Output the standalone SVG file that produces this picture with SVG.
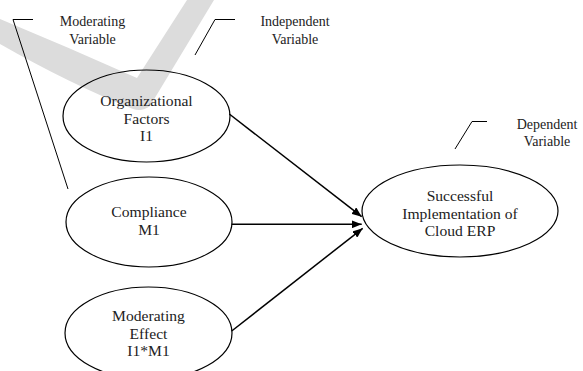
<svg xmlns="http://www.w3.org/2000/svg" width="583" height="371" viewBox="0 0 583 371">
<defs>
<style>
.node{fill:none;stroke:#000;stroke-width:1.2}
.t{font-family:"Liberation Serif","Times New Roman",serif;font-size:15.6px;fill:#222;text-anchor:middle}
.lbl{font-family:"Liberation Serif","Times New Roman",serif;font-size:14px;fill:#222;text-anchor:middle}
.call{fill:none;stroke:#000;stroke-width:1}
.edge{stroke:#000;stroke-width:1.5;fill:none;marker-end:url(#ah)}
</style>
<marker id="ah" viewBox="0 0 10 8" refX="10" refY="4" markerWidth="10" markerHeight="8" markerUnits="userSpaceOnUse" orient="auto">
<path d="M0,0 L10,4 L0,8 Z" fill="#000"/>
</marker>
</defs>
<rect width="583" height="371" fill="#fff"/>
<path d="M0,19 Q70,48 137,78 L187,0 L214,0 L150,106 Q142,112 133,109 Q70,84 0,44 Z" fill="#dcdcdc"/>
<g id="callouts">
<path class="call" d="M33,19.5 L13,19.5 L68,189"/>
<path class="call" d="M235,19.5 L215,19.5 L195,55"/>
<path class="call" d="M487,121.5 L472,121.5 L455,149"/>
<text class="lbl" x="92.5" y="26">Moderating</text>
<text class="lbl" x="92.5" y="43.5">Variable</text>
<text class="lbl" x="295" y="26">Independent</text>
<text class="lbl" x="295" y="44">Variable</text>
<text class="lbl" x="547" y="128.5">Dependent</text>
<text class="lbl" x="547" y="146">Variable</text>
</g>
<g id="connectors">
<line class="edge" x1="229.3" y1="114" x2="361.7" y2="216.7"/>
<line class="edge" x1="231.7" y1="224.3" x2="361.7" y2="224.3"/>
<line class="edge" x1="231.7" y1="331" x2="362.7" y2="228.3"/>
</g>
<g id="org">
<ellipse class="node" cx="146.5" cy="116" rx="83.5" ry="46"/>
<text class="t" x="146.5" y="106">Organizational</text>
<text class="t" x="146.5" y="123.5">Factors</text>
<text class="t" x="146.5" y="141">I1</text>
</g>
<g id="compliance">
<ellipse class="node" cx="149" cy="222" rx="83" ry="45"/>
<text class="t" x="149" y="217">Compliance</text>
<text class="t" x="149" y="234.5">M1</text>
</g>
<g id="moderating">
<ellipse class="node" cx="148.5" cy="333" rx="83.5" ry="46"/>
<text class="t" x="148.5" y="321">Moderating</text>
<text class="t" x="148.5" y="338.5">Effect</text>
<text class="t" x="148.5" y="356">I1*M1</text>
</g>
<g id="success">
<ellipse class="node" cx="460" cy="211" rx="98" ry="46"/>
<text class="t" x="460" y="201">Successful</text>
<text class="t" x="460" y="218.5">Implementation of</text>
<text class="t" x="460" y="236">Cloud ERP</text>
</g>
</svg>
